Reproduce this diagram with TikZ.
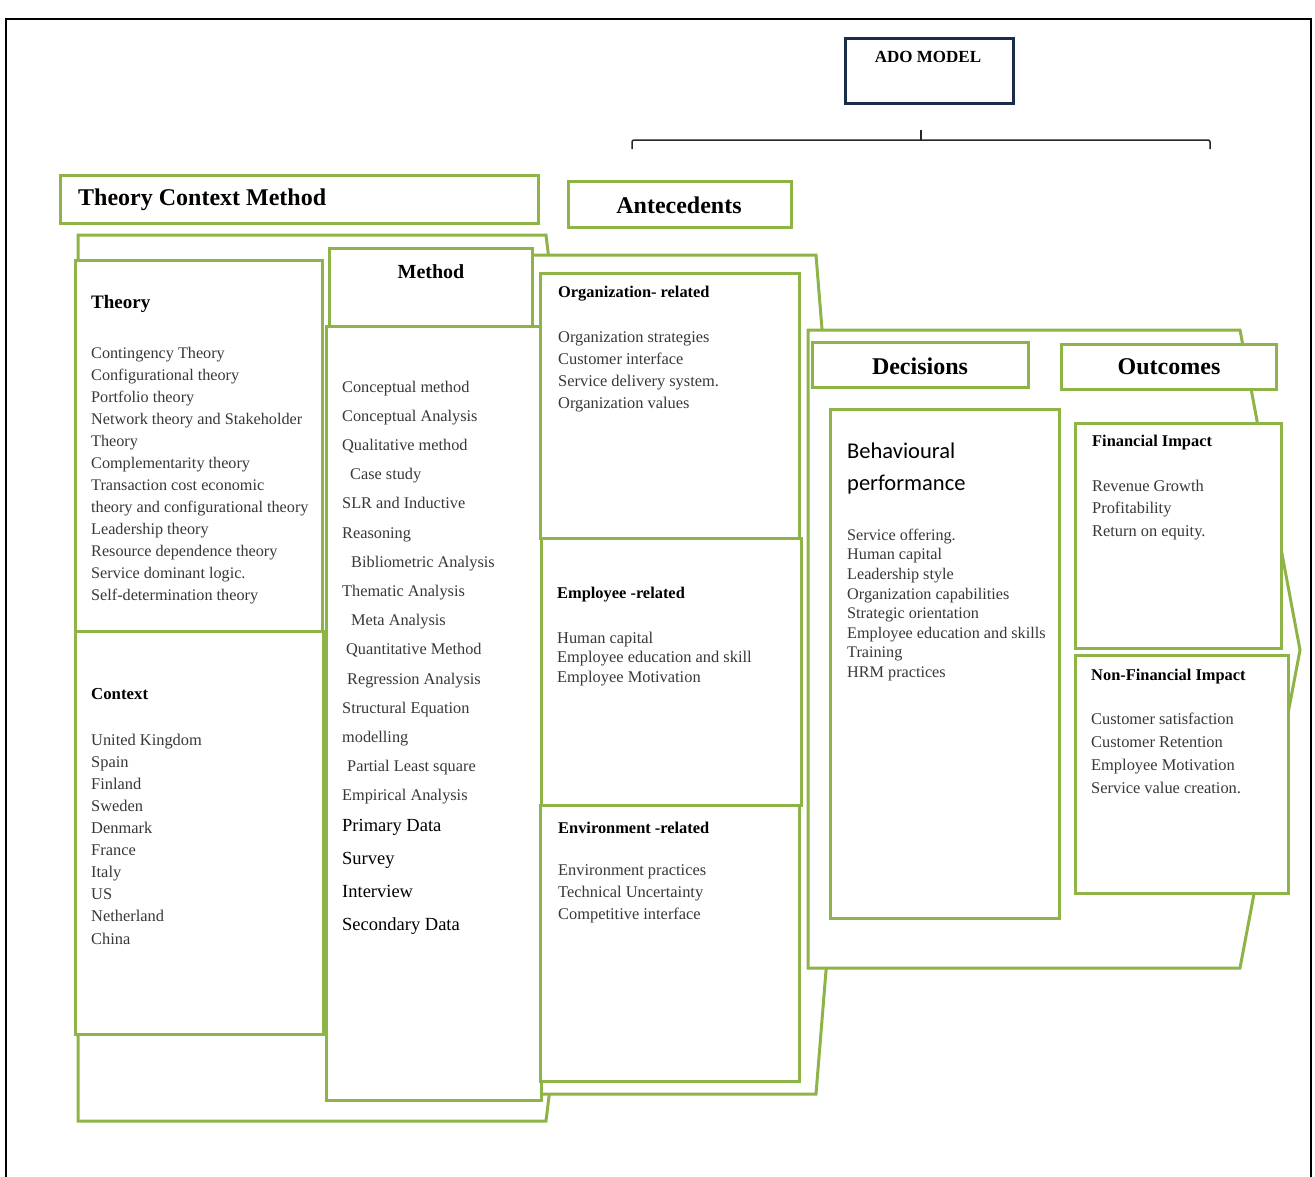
\documentclass[tikz,border=0pt]{standalone}
\usepackage{fontspec}
\setmainfont{Liberation Serif}
\newfontfamily\calibrifont{Carlito}
\usetikzlibrary{positioning}
\definecolor{framegreen}{RGB}{142,180,72}
\definecolor{adonavy}{RGB}{25,45,75}

\begin{document}
\begin{tikzpicture}[x=1pt, y=-1pt,
  greenbox/.style={draw=framegreen, line width=3pt, fill=white},
  bighead/.style={font=\bfseries\fontsize{24}{28}\selectfont, inner sep=0pt},
  subhead/.style={font=\bfseries\fontsize{16.4}{20}\selectfont, anchor=west, inner sep=0pt},
  itemlist/.style={anchor=north west, inner sep=0pt, align=left, text=black!78}]
  \useasboundingbox (0,0) rectangle (1315,1176);
  \draw[line width=2.5pt] (6,19) rectangle (1311,1195);

  % ADO model and bracket
  \draw[adonavy, line width=3pt] (845,38) rectangle (1013,103);
  \node[font=\bfseries\fontsize{17}{20}\selectfont, inner sep=0pt] (ado) at (928,57) {ADO MODEL};
  \coordinate (bl) at (632,149);
  \coordinate (br) at (1210,149);
  \draw[line width=1.5pt, black!85, rounded corners=2pt] (bl) -- (632,140) -- (1210,140) -- (br);
  \draw[line width=1.5pt, black!85] (921,140) -- (921,130);

  % big chevron frames
  \draw[greenbox] (78,235) -- (546,235) -- (600,678) -- (546,1121) -- (78,1121) -- cycle;
  \draw[greenbox] (530,255) -- (816,255) -- (850,675) -- (816,1094) -- (530,1094) -- cycle;
  \draw[greenbox] (808,330) -- (1240,330) -- (1300,650) -- (1240,968) -- (808,968) -- cycle;

  % header boxes
  \draw[greenbox] (60,175) rectangle (538,223);
  \node[bighead, anchor=west] (tcm) at (78,200) {Theory Context Method};
  \draw[greenbox] (568,181) rectangle (791,227);
  \node[bighead] (ante) at (679,205) {Antecedents};
  \draw[greenbox] (812,342) rectangle (1028,387);
  \node[bighead] (dec) at (920,366) {Decisions};
  \draw[greenbox] (1061,344) rectangle (1276,389);
  \node[bighead] (outc) at (1169,367) {Outcomes};

  % theory and context
  \draw[greenbox] (75,260) rectangle (322,631);
  \node[subhead, font=\bfseries\fontsize{19}{22}\selectfont] (theory) at (91,304) {Theory};
  \node[itemlist, font=\fontsize{16.2}{22}\selectfont] (theorylist) at (91,346.6)
    {Contingency Theory\\Configurational theory\\Portfolio theory\\
     Network theory and Stakeholder\\Theory\\Complementarity theory\\
     Transaction cost economic\\theory and configurational theory\\
     Leadership theory\\Resource dependence theory\\Service dominant logic.\\
     Self-determination theory};
  \draw[greenbox] (75,631) rectangle (323,1034);
  \node[subhead, font=\bfseries\fontsize{16.8}{20}\selectfont] (context) at (91,694) {Context};
  \node[itemlist, font=\fontsize{16.4}{22.1}\selectfont] (contextlist) at (91,733.6)
    {United Kingdom\\Spain\\Finland\\Sweden\\Denmark\\France\\Italy\\US\\
     Netherland\\China};

  % method
  \draw[greenbox] (326,326) rectangle (541,1100);
  \draw[greenbox] (329,248) rectangle (532,326);
  \node[bighead, font=\bfseries\fontsize{20}{24}\selectfont] (method) at (431,272) {Method};
  \node[itemlist, font=\fontsize{16.3}{29.2}\selectfont] (methodlist) at (342,380.6)
    {Conceptual method\\Conceptual Analysis\\Qualitative method\\
     \hspace*{8pt}Case study\\SLR and Inductive\\Reasoning\\
     \hspace*{9pt}Bibliometric Analysis\\Thematic Analysis\\
     \hspace*{9pt}Meta Analysis\\\hspace*{4pt}Quantitative Method\\
     \hspace*{5pt}Regression Analysis\\Structural Equation\\modelling\\
     \hspace*{5pt}Partial Least square\\Empirical Analysis};
  \node[itemlist, text=black, font=\fontsize{18.5}{33}\selectfont] (datalist) at (342,818.8)
    {Primary Data\\Survey\\Interview\\Secondary Data};

  % antecedents
  \draw[greenbox] (540,273) rectangle (799,538);
  \node[subhead] (org) at (558,294) {Organization- related};
  \node[itemlist, font=\fontsize{16.4}{22}\selectfont] (orglist) at (558,331.6)
    {Organization strategies\\Customer interface\\Service delivery system.\\
     Organization values};
  \draw[greenbox] (541,538) rectangle (801,805);
  \node[subhead] (emp) at (557,595) {Employee -related};
  \node[itemlist, font=\fontsize{16.4}{19.5}\selectfont] (emplist) at (557,631.6)
    {Human capital\\Employee education and skill\\Employee Motivation};
  \draw[greenbox] (540,805) rectangle (799,1081);
  \node[subhead] (env) at (558,828) {Environment -related};
  \node[itemlist, font=\fontsize{16.4}{22}\selectfont] (envlist) at (558,864.6)
    {Environment practices\\Technical Uncertainty\\Competitive interface};

  % decisions
  \draw[greenbox] (830,409) rectangle (1059,918);
  \node[itemlist, text=black, font=\calibrifont\fontsize{22.5}{32}\selectfont] (behav) at (847,443)
    {Behavioural\\performance};
  \node[itemlist, font=\fontsize{16.2}{19.6}\selectfont] (behavlist) at (847,528.6)
    {Service offering.\\Human capital\\Leadership style\\Organization capabilities\\
     Strategic orientation\\Employee education and skills\\Training\\HRM practices};

  % outcomes
  \draw[greenbox] (1075,423) rectangle (1281,648);
  \node[subhead] (fin) at (1092,443) {Financial Impact};
  \node[itemlist, font=\fontsize{16.4}{22.5}\selectfont] (finlist) at (1092,479.6)
    {Revenue Growth\\Profitability\\Return on equity.};
  \draw[greenbox] (1075,655) rectangle (1288,893);
  \node[subhead] (nonfin) at (1091,677) {Non-Financial Impact};
  \node[itemlist, font=\fontsize{16.4}{23}\selectfont] (nonfinlist) at (1091,712.6)
    {Customer satisfaction\\Customer Retention\\Employee Motivation\\
     Service value creation.};
\end{tikzpicture}
\end{document}
